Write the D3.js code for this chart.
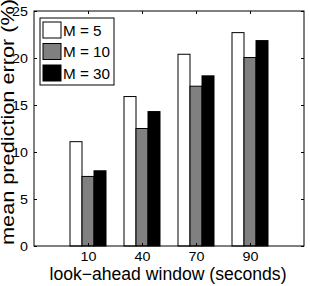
<!DOCTYPE html>
<html>
<head>
<meta charset="utf-8">
<script src="https://cdn.jsdelivr.net/npm/d3@7"></script>
<style>
  body { margin: 0; background: #fff; }
  text { font-family: "Liberation Sans", Arial, sans-serif; fill: #000; }
</style>
</head>
<body>
<div id="chart"></div>
<script>
const categories = ["10", "40", "70", "90"];
const seriesNames = ["M = 5", "M = 10", "M = 30"];
const seriesColors = ["#ffffff", "#808080", "#000000"];
const m5 = [11.1, 15.9, 20.4, 22.7];
const m10 = [7.4, 12.5, 17.0, 20.05];
const m30 = [8.0, 14.3, 18.1, 21.85];
const yTicks = [0, 5, 10, 15, 20, 25];

const W = 310, H = 286;
const margin = {top: 11, right: 6, bottom: 40, left: 34};
const width = W - margin.left - margin.right;
const height = H - margin.top - margin.bottom;

const svg = d3.select("#chart").append("svg")
  .attr("width", W).attr("height", H);
const g = svg.append("g")
  .attr("transform", `translate(${margin.left},${margin.top})`);

const x = d3.scaleLinear().domain([0, categories.length + 1]).range([0, width]);
const y = d3.scaleLinear().domain([0, 25]).range([height, 0]);
const step = x(1) - x(0);
const inner = d3.scaleBand().domain(seriesNames)
  .range([-step / 3, step / 3]);

const series = [m5, m10, m30];
const rows = [];
series.forEach((vals, si) => {
  vals.forEach((v, ci) => rows.push({s: seriesNames[si], c: ci, v: v, color: seriesColors[si]}));
});

g.selectAll("rect.bar")
  .data(rows)
  .enter().append("rect")
  .attr("class", "bar")
  .attr("x", d => x(d.c + 1) + inner(d.s))
  .attr("width", inner.bandwidth())
  .attr("y", d => y(d.v))
  .attr("height", d => y(0) - y(d.v))
  .attr("fill", d => d.color)
  .attr("stroke", "#000")
  .attr("stroke-width", 1);

const tickLen = 3;
// axes with inward ticks
const xAxis = g.append("g")
  .attr("transform", `translate(0,${height})`)
  .call(d3.axisBottom(x).tickValues([1, 2, 3, 4])
    .tickFormat((d, i) => categories[i]).tickSize(-tickLen).tickPadding(6));
const xTop = g.append("g")
  .call(d3.axisTop(x).tickValues([1, 2, 3, 4]).tickFormat("").tickSize(-tickLen));
const yAxis = g.append("g")
  .call(d3.axisLeft(y).tickValues(yTicks).tickSize(-tickLen).tickPadding(6));
const yRight = g.append("g")
  .attr("transform", `translate(${width},0)`)
  .call(d3.axisRight(y).tickValues(yTicks).tickFormat("").tickSize(-tickLen));

[xAxis, xTop, yAxis, yRight].forEach(a => {
  a.select(".domain").remove();
  a.selectAll("line").attr("stroke", "#000");
  a.selectAll("text").style("font-size", "13px");
});

g.append("rect")
  .attr("width", width).attr("height", height)
  .attr("fill", "none").attr("stroke", "#000").attr("stroke-width", 1);

function stretch(sel, k) {
  sel.each(function() {
    const len = this.getComputedTextLength();
    d3.select(this).attr("textLength", len * k).attr("lengthAdjust", "spacingAndGlyphs");
  });
}
stretch(g.selectAll(".tick text"), 1.1);

// legend
const legend = svg.append("g").attr("transform", "translate(40,18)");
legend.append("rect")
  .attr("width", 74).attr("height", 67)
  .attr("fill", "#fff").attr("stroke", "#000");
const items = legend.selectAll("g.item")
  .data(seriesNames)
  .enter().append("g")
  .attr("transform", (d, i) => `translate(3,${4 + i * 21.5})`);
items.append("rect")
  .attr("width", 18).attr("height", 16)
  .attr("fill", (d, i) => seriesColors[i]).attr("stroke", "#000");
items.append("text")
  .attr("x", 20).attr("y", 13.5)
  .style("font-size", "14px")
  .text(d => d);
stretch(items.selectAll("text"), 1.09);

// axis labels
svg.append("text")
  .attr("x", margin.left + width / 2 - 1).attr("y", 280)
  .attr("text-anchor", "middle")
  .style("font-size", "17.5px")
  .attr("textLength", 237).attr("lengthAdjust", "spacingAndGlyphs")
  .text("look\u2212ahead window (seconds)");

svg.append("text")
  .attr("transform", "translate(13.5,122) rotate(-90)")
  .attr("text-anchor", "middle")
  .style("font-size", "19px")
  .attr("textLength", 246).attr("lengthAdjust", "spacingAndGlyphs")
  .text("mean prediction error (%)");
</script>
</body>
</html>
